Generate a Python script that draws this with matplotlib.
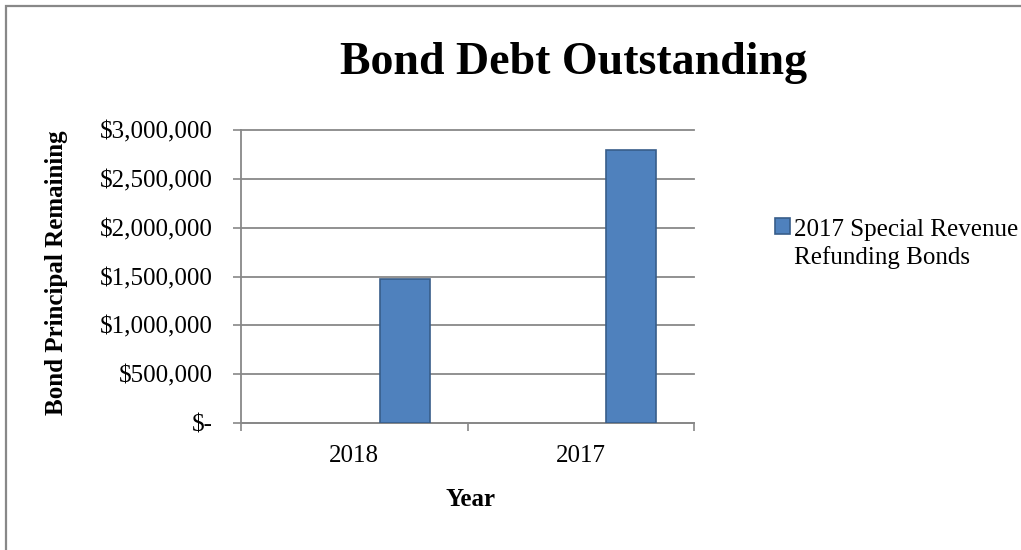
import matplotlib
matplotlib.use("Agg")
import matplotlib.pyplot as plt
from matplotlib.patches import Rectangle
from matplotlib.container import BarContainer
from matplotlib.legend_handler import HandlerPatch, update_from_first_child
from matplotlib.ticker import FuncFormatter
import numpy as np

# ---- data ----
categories = ["2018", "2017"]
series_name = "2017 Special Revenue\nRefunding Bonds"
values = [1475000, 2800000]
y_ticks = [0, 500000, 1000000, 1500000, 2000000, 2500000, 3000000]
title = "Bond Debt Outstanding"
x_label = "Year"
y_label = "Bond Principal Remaining"

plt.rcParams['font.family'] = ['Liberation Serif', 'DejaVu Serif']

W, H = 1021, 550
fig = plt.figure(figsize=(W / 100, H / 100), dpi=100)

grid_color = '#888888'
bar_color = '#4F81BD'
bar_edge = '#385D8A'

# figure border (top/left visible)
fig.patches.append(Rectangle((5.5 / W, -0.1), 1.2, 1.1 - 5.5 / H,
                             transform=fig.transFigure, fill=False,
                             edgecolor=grid_color, linewidth=1.6, zorder=0))

ax = fig.add_axes([241 / W, (H - 423) / H, 453 / W, 293 / H])
x = np.arange(len(categories))
bar_offset = 0.223
bar_width = 0.22
ax.bar(x + bar_offset, values, width=bar_width, color=bar_color,
       edgecolor=bar_edge, linewidth=1.2, zorder=3, label=series_name)

ax.set_xlim(-0.5, len(categories) - 0.5)
ax.set_ylim(0, 3000000)
ax.set_yticks(y_ticks)
ax.yaxis.set_major_formatter(FuncFormatter(lambda v, p: "$-" if v == 0 else f"${v:,.0f}"))

ax.set_xticks(np.arange(len(categories) + 1) - 0.5)
ax.set_xticklabels([])
ax.set_xticks(x, minor=True)
ax.set_xticklabels(categories, minor=True)
ax.tick_params(axis='x', which='minor', length=0, pad=15.5, labelsize=18)
ax.tick_params(axis='x', which='major', length=6, width=1.2, color=grid_color, direction='out')
ax.tick_params(axis='y', length=6, width=1.2, color=grid_color, direction='out', pad=14, labelsize=18)

ax.yaxis.grid(True, color=grid_color, linewidth=1.3)
ax.set_axisbelow(True)
for gl in ax.get_ygridlines():
    gl.set_clip_on(False)
for s in ['top', 'right']:
    ax.spines[s].set_visible(False)
for s in ['left', 'bottom']:
    ax.spines[s].set_color(grid_color)
    ax.spines[s].set_linewidth(1.3)

fig.text(574 / W, 1 - 74 / H, title, ha='center', va='baseline', fontsize=33, fontweight='bold')
fig.text(57 / W, 1 - 273 / H, y_label, ha='center', va='center', rotation=90, fontsize=18, fontweight='bold')
fig.text(470 / W, 1 - 500 / H, x_label, ha='center', va='center', fontsize=18, fontweight='bold')


def square_patch(legend, orig_handle, xdescent, ydescent, width, height, fontsize):
    return Rectangle((-xdescent, -ydescent + 13.0), width, height)


handles, labels = ax.get_legend_handles_labels()
leg = ax.legend(handles, labels, loc='upper left', bbox_to_anchor=(775 / W, 1 - 219 / H),
                bbox_transform=fig.transFigure, frameon=False, fontsize=18,
                handlelength=0.6, handleheight=0.6, handletextpad=0.15,
                borderpad=0, borderaxespad=0,
                handler_map={BarContainer: HandlerPatch(patch_func=square_patch,
                                                        update_func=update_from_first_child)})
for t in leg.get_texts():
    t.set_linespacing(1.3)

fig.savefig("out.png", dpi=100)
